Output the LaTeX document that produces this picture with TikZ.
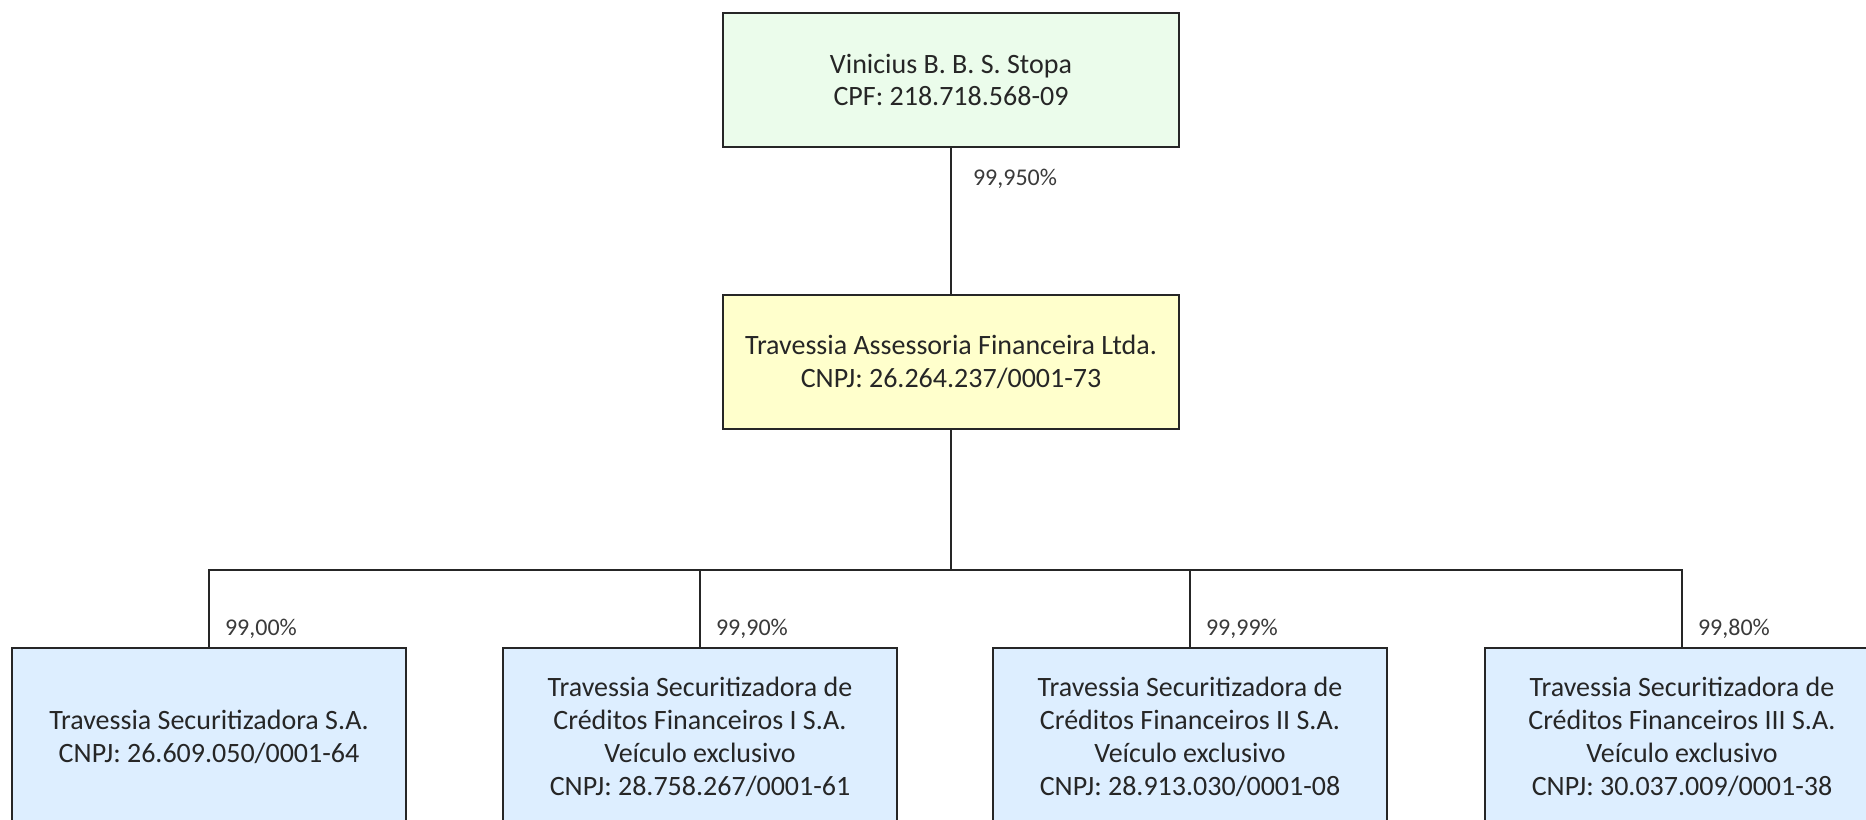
\documentclass[tikz,border=0pt]{standalone}
\usepackage{fontspec}
\setmainfont{Carlito}
\usetikzlibrary{positioning}
\definecolor{pfgreen}{HTML}{EBFCEB}
\definecolor{pjyellow}{HTML}{FFFFCC}
\definecolor{pjblue}{HTML}{DDEEFF}
\definecolor{linegray}{HTML}{262626}
\definecolor{pctgray}{HTML}{3A3A3A}

\begin{document}
\begin{tikzpicture}[
    x=0.5pt, y=-0.5pt,
    node distance = 73pt and 0pt,
    caixa/.style = {rectangle, draw=linegray, line width=1pt, align=center, text=linegray,
                    font=\fontsize{14}{16.4}\selectfont, inner sep=0pt},
    socio/.style = {caixa, fill=pfgreen, minimum width=228pt, minimum height=67pt},
    holding/.style = {caixa, fill=pjyellow, minimum width=228pt, minimum height=67pt},
    filha/.style = {caixa, fill=pjblue, minimum width=197pt, minimum height=89pt},
    liga/.style = {draw=linegray, line width=1pt},
    pct/.style = {font=\fontsize{12}{14}\selectfont, text=pctgray, inner sep=0pt, anchor=west}
    ]

  \useasboundingbox (0,0) rectangle (1866,819);
  \clip (0,0) rectangle (1866,819);

  \node[socio] (vini) at (951,80) {Vinicius B. B. S. Stopa\\CPF: 218.718.568-09} ;
  \node[holding] (assessoria) [below=of vini] {Travessia Assessoria Financeira Ltda.\\CNPJ: 26.264.237/0001-73} ;
  \coordinate[below=70pt of assessoria] (barra) ;

  \node[filha] (secsa) at (209,737) {Travessia Securitizadora S.A.\\CNPJ: 26.609.050/0001-64} ;
  \node[filha] (cfi) at (700,737) {Travessia Securitizadora de\\Créditos Financeiros I S.A.\\Veículo exclusivo\\CNPJ: 28.758.267/0001-61} ;
  \node[filha] (cfii) at (1190,737) {Travessia Securitizadora de\\Créditos Financeiros II S.A.\\Veículo exclusivo\\CNPJ: 28.913.030/0001-08} ;
  \node[filha] (cfiii) at (1682,737) {Travessia Securitizadora de\\Créditos Financeiros III S.A.\\Veículo exclusivo\\CNPJ: 30.037.009/0001-38} ;

  \draw[liga] (vini) -- node[pct, pos=0.21, xshift=10.5pt] {99,950\%} (assessoria);
  \draw[liga] (assessoria) -- (barra);
  \draw[liga] (barra) -| node[pct, pos=0.88, xshift=7.5pt] {99,00\%} (secsa);
  \draw[liga] (barra) -| node[pct, pos=0.88, xshift=7.5pt] {99,90\%} (cfi);
  \draw[liga] (barra) -| node[pct, pos=0.88, xshift=7.5pt] {99,99\%} (cfii);
  \draw[liga] (barra) -| node[pct, pos=0.88, xshift=7.5pt] {99,80\%} (cfiii);
\end{tikzpicture}
\end{document}
